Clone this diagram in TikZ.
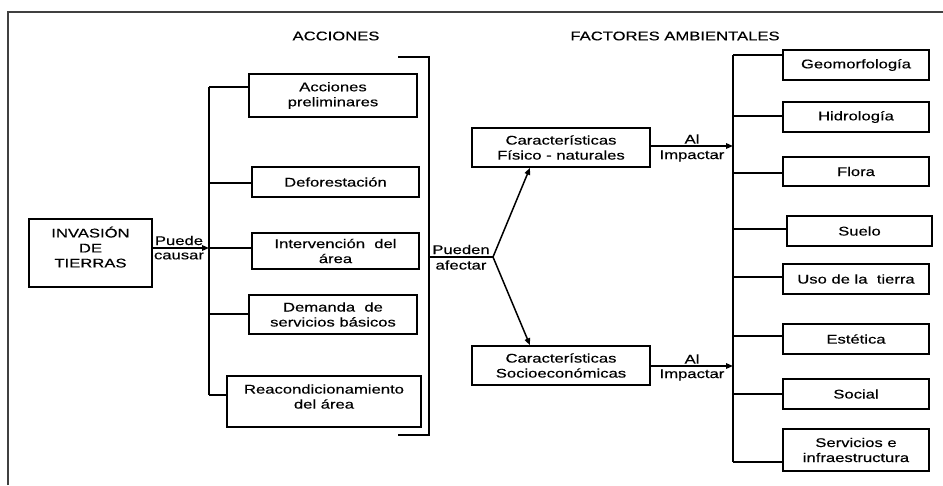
\documentclass[tikz,border=0pt]{standalone}
\usepackage{fontspec}
\setmainfont{Liberation Sans}[FakeStretch=1.32,FakeBold=0.4]
\usetikzlibrary{arrows.meta}
\begin{document}
\begin{tikzpicture}[x=1pt,y=-1pt,
  every node/.style={font=\fontsize{12.6}{15}\selectfont, inner sep=0pt},
  bx/.style={draw, line width=1.5pt, align=center},
  ln/.style={line width=1.5pt},
  arr/.style={line width=1.5pt, -{Triangle[length=7pt,width=5.5pt]}},
  lbl/.style={align=center}]
\useasboundingbox (0,0) rectangle (943,485);
% outer frame
\coordinate (fa) at (8,485);
\coordinate (fb) at (8,12);
\coordinate (fc) at (943,12);
\draw[line width=1.5pt, black!75] (fa) -- (fb) -- (fc);
% titles
\node (tA) at (336,36) {ACCIONES};
\node (tF) at (675,36) {FACTORES AMBIENTALES};
% left box
\node[bx, minimum width=123pt, minimum height=68pt] (inv) at (90.5,253) {INVASIÓN\\DE\\TIERRAS\\[-3pt]\mbox{}};
% actions
\node[bx, minimum width=168pt, minimum height=43pt] (prel) at (333,95.5) {Acciones\\preliminares};
\node[bx, minimum width=167pt, minimum height=30pt] (defo) at (335.5,182) {Deforestación};
\node[bx, minimum width=167pt, minimum height=36pt] (inter) at (335.5,251) {Intervención~ del\\área};
\node[bx, minimum width=168pt, minimum height=39pt] (dem) at (333,314.5) {Demanda~ de\\servicios básicos};
\node[bx, minimum width=194pt, minimum height=51pt] (reac) at (324,401.5) {Reacondicionamiento\\del área\\[-5pt]\mbox{}};
% left bus
\coordinate (l1) at (209,87);
\coordinate (l2) at (209,183);
\coordinate (l3) at (209,248);
\coordinate (l4) at (209,314);
\coordinate (l5) at (209,395);
\draw[ln] (l1) -- (l5);
\draw[ln] (l1) -- (prel.west |- l1);
\draw[ln] (l2) -- (defo.west |- l2);
\draw[ln] (l3) -- (inter.west |- l3);
\draw[ln] (l4) -- (dem.west |- l4);
\draw[ln] (l5) -- (reac.west |- l5);
\draw[arr] (inv.east |- l3) -- (l3);
\node (puede) at (179,240.5) {Puede};
\node (causar) at (179,256) {causar};
% bracket
\coordinate (k1) at (398,57);
\coordinate (k2) at (429,57);
\coordinate (k3) at (429,435);
\coordinate (k4) at (398,435);
\draw[ln] (k1) -- (k2) -- (k3) -- (k4);
\coordinate (k5) at (429,257);
\coordinate (sp) at (493,257);
\draw[ln] (k5) -- (sp);
\node (pueden) at (461,249.5) {Pueden};
\node (afectar) at (461,265) {afectar};
% characteristics
\node[bx, minimum width=178pt, minimum height=39pt] (fis) at (561,147.5) {Características\\Físico - naturales};
\node[bx, minimum width=178pt, minimum height=39pt] (soc) at (561,365.5) {Características\\Socioeconómicas};
\draw[arr] (sp) -- (fis.south -| 530,0);
\draw[arr] (sp) -- (soc.north -| 530,0);
% right bus
\coordinate (r1) at (733,55);
\coordinate (r2) at (733,116);
\coordinate (r3) at (733,173);
\coordinate (r4) at (733,229);
\coordinate (r5) at (733,277);
\coordinate (r6) at (733,336);
\coordinate (r7) at (733,394);
\coordinate (r8) at (733,462);
\coordinate (ra) at (733,146);
\coordinate (rb) at (733,366);
\draw[ln] (r1) -- (r8);
\draw[arr] (fis.east |- ra) -- (ra);
\draw[arr] (soc.east |- rb) -- (rb);
\node (al1) at (692,139) {Al};
\node (imp1) at (692,156) {Impactar};
\node (al2) at (692,359) {Al};
\node (imp2) at (692,375) {Impactar};
% factors
\node[bx, minimum width=146pt, minimum height=30pt] (geo) at (856,65) {Geomorfología};
\node[bx, minimum width=146pt, minimum height=30pt] (hid) at (856,117) {Hidrología};
\node[bx, minimum width=146pt, minimum height=29pt] (flo) at (856,171.5) {Flora};
\node[bx, minimum width=145pt, minimum height=30pt] (sue) at (859.5,231) {Suelo};
\node[bx, minimum width=146pt, minimum height=30pt] (uso) at (856,279) {Uso de la~ tierra};
\node[bx, minimum width=146pt, minimum height=30pt] (est) at (856,339) {Estética};
\node[bx, minimum width=146pt, minimum height=30pt] (socl) at (856,394) {Social};
\node[bx, minimum width=146pt, minimum height=42pt] (serv) at (856,450) {Servicios e\\infraestructura};
\draw[ln] (r1) -- (geo.west |- r1);
\draw[ln] (r2) -- (hid.west |- r2);
\draw[ln] (r3) -- (flo.west |- r3);
\draw[ln] (r4) -- (sue.west |- r4);
\draw[ln] (r5) -- (uso.west |- r5);
\draw[ln] (r6) -- (est.west |- r6);
\draw[ln] (r7) -- (socl.west |- r7);
\draw[ln] (r8) -- (serv.west |- r8);
\end{tikzpicture}
\end{document}
